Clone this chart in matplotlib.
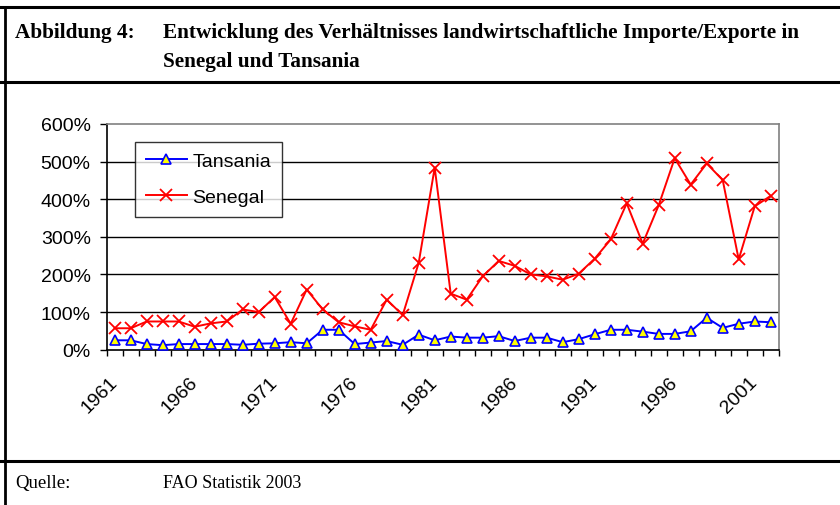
import matplotlib
matplotlib.use("Agg")
import matplotlib.pyplot as plt
from matplotlib.lines import Line2D

years = list(range(1961, 2003))
tansania = [25, 25, 15, 12, 15, 15, 15, 15, 13, 16, 17, 20, 17, 53, 53, 15, 19, 23, 13, 40,
            25, 35, 32, 32, 36, 23, 32, 32, 20, 28, 41, 53, 53, 48, 42, 42, 49, 85, 58, 69,
            75, 73]
senegal = [57, 57, 75, 75, 75, 61, 70, 75, 107, 100, 140, 69, 160, 107, 73, 62, 53, 133, 92, 231,
           484, 149, 133, 195, 236, 223, 200, 195, 186, 202, 242, 293, 389, 282, 384, 509, 439, 495, 451, 240,
           381, 409]
yticks = [0, 100, 200, 300, 400, 500, 600]
label_years = years[::5]

W, H = 840, 506
fig = plt.figure(figsize=(W / 100, H / 100), dpi=100)

def fx(x):
    return x / W

def fy(y):
    return 1 - y / H

# frame lines
for (x0, y0, x1, y1, lw) in [(0, 7.7, W, 7.7, 2.2), (0, 83.3, W, 83.3, 2.2),
                             (0, 461.7, W, 461.7, 2.2), (4.7, 7.7, 4.7, H, 2.0)]:
    fig.add_artist(Line2D([fx(x0), fx(x1)], [fy(y0), fy(y1)], color="black", lw=lw,
                          transform=fig.transFigure))

serif = ["Liberation Serif", "DejaVu Serif"]
sans = ["Liberation Sans", "DejaVu Sans"]
fig.text(fx(15), fy(33), "Abbildung 4:", family=serif, weight="bold", fontsize=15.3, va="center")
fig.text(fx(163), fy(33), "Entwicklung des Verhältnisses landwirtschaftliche Importe/Exporte in",
         family=serif, weight="bold", fontsize=15.3, va="center")
fig.text(fx(163), fy(62), "Senegal und Tansania", family=serif, weight="bold", fontsize=15.3, va="center")
fig.text(fx(15), fy(484), "Quelle:", family=serif, fontsize=13.5, va="center")
fig.text(fx(163), fy(484), "FAO Statistik 2003", family=serif, fontsize=13, va="center")

left, right, top, bottom = 106.7, 778.7, 125.0, 350.7
ax = fig.add_axes([fx(left), fy(bottom), (right - left) / W, (bottom - top) / H])
ax.set_xlim(years[0] - 0.5, years[-1] + 0.5)
ax.set_ylim(0, 600)

for v in yticks[1:-1]:
    ax.axhline(v, color="black", lw=1.0, zorder=1)

ax.plot(years, tansania, color="#0000ff", lw=1.4, marker="^", markersize=7,
        markerfacecolor="#ffff00", markeredgecolor="#0000ff", markeredgewidth=1.2,
        label="Tansania", zorder=3)
ax.plot(years, senegal, color="#ff0000", lw=1.4, marker="x", markersize=8,
        markeredgewidth=1.3, label="Senegal", zorder=3)

ax.set_yticks(yticks)
ax.set_yticklabels([f"{v}%" for v in yticks], family=sans, fontsize=14)
ax.tick_params(axis="y", length=5, width=1, pad=6.5, direction="out")

ax.set_xticks([y - 0.5 for y in years] + [years[-1] + 0.5], minor=True)
ax.tick_params(axis="x", which="minor", length=4.5, width=1, direction="out")
ax.set_xticks(label_years)
ax.set_xticklabels([str(y) for y in label_years], family=sans, fontsize=14,
                   rotation=45, ha="right", va="center", rotation_mode="anchor")
ax.tick_params(axis="x", which="major", length=0, pad=21)

for s in ["left", "bottom"]:
    ax.spines[s].set_color("black")
    ax.spines[s].set_linewidth(1.2)
for s in ["top", "right"]:
    ax.spines[s].set_color("#808080")
    ax.spines[s].set_linewidth(1.2)

leg = ax.legend(loc="upper left", bbox_to_anchor=(fx(135), fy(142.7)),
                bbox_transform=fig.transFigure, borderaxespad=0, frameon=True,
                fancybox=False, edgecolor="black", prop={"family": sans, "size": 14},
                handlelength=2.1, handletextpad=0.3, labelspacing=0.95, borderpad=0.55)
leg.get_frame().set_linewidth(1.0)

fig.savefig("out.png", dpi=100)
